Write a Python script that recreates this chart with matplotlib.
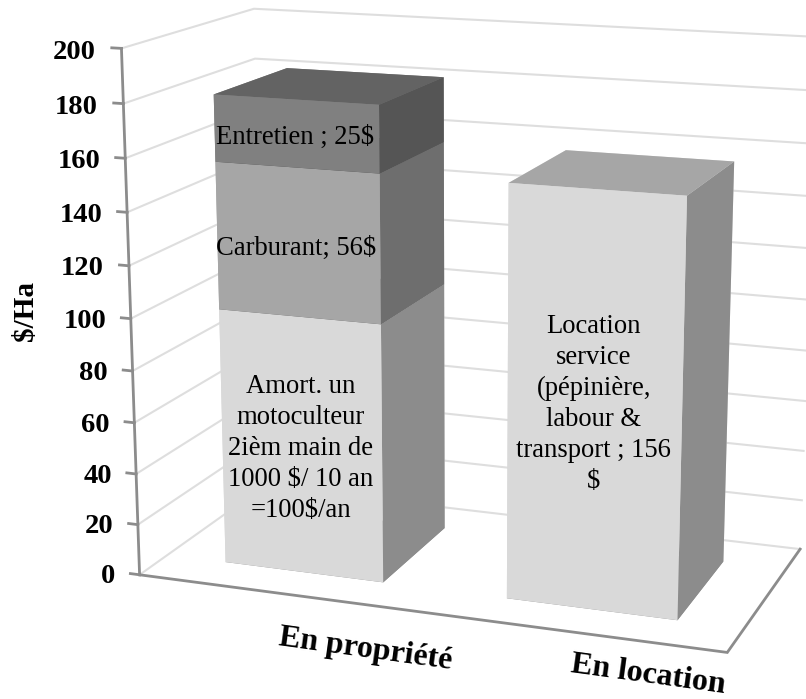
import numpy as np
import matplotlib
matplotlib.use("Agg")
import matplotlib.pyplot as plt
from mpl_toolkits.mplot3d import proj3d

# ---- data ----
categories = ["En propriété", "En location"]
y_ticks = [0, 20, 40, 60, 80, 100, 120, 140, 160, 180, 200]
y_label = "$/Ha"
amortissement = [100, 0]
carburant = [56, 0]
entretien = [25, 0]
location = [0, 156]
label_amort = "Amort. un\nmotoculteur\n2ièm main de\n1000 $/ 10 an\n=100$/an"
label_carb = "Carburant; 56$"
label_entr = "Entretien ; 25$"
label_loc = "Location\nservice\n(pépinière,\nlabour &\ntransport ; 156\n$"

# ---- camera: world (category, depth, value) -> image pixel ----
CAMERA = np.array([
    [2.655326e+02, 1.527166e+02, -1.225794e-01, 1.395872e+02],
    [1.343189e+01, -3.660514e+01, -2.644787e+00, 5.747924e+02],
    [-3.892345e-02, 1.068776e-01, -2.626641e-04, 1.0],
])
W_PX, H_PX = 806, 699
SQUARE = 1100
BAR_W = 0.57
BAR_D = 0.58

fig = plt.figure(figsize=(W_PX / 100, H_PX / 100), dpi=100, facecolor="white")
ax = fig.add_axes([(W_PX - SQUARE) / 2 / W_PX, (H_PX - SQUARE) / 2 / H_PX,
                   SQUARE / W_PX, SQUARE / H_PX], projection="3d",
                  computed_zorder=False)
ax.set_axis_off()


def camera_proj():
    to_data = np.linalg.inv(ax.transData.get_affine().get_matrix())
    flip = np.array([[1, 0, 0], [0, -1, H_PX], [0, 0, 1.0]])
    H = to_data @ flip @ CAMERA
    depth = np.array([-0.02, 0.1, -0.0002, -0.5])
    return np.vstack([H[0], H[1], depth, H[2]])


ax.get_proj = camera_proj


def world_text(x, y, z, s, along_x=False, **kw):
    """Place a flat text at a world position, optionally running along the x axis."""
    M = camera_proj()
    px, py, _ = proj3d.proj_transform(x, y, z, M)
    if along_x:
        qx, qy, _ = proj3d.proj_transform(x + 0.2, y, z, M)
        kw["rotation"] = np.degrees(np.arctan2(qy - py, qx - px))
        kw["rotation_mode"] = "anchor"
    return ax.text2D(px, py, s, transform=ax.transData, **kw)


GRID = "#DEDEDE"
AXIS = "#8C8C8C"
X0, X1 = 0, len(categories)

# walls
for v in y_ticks:
    ax.plot([X0, X0, X1], [0, 1, 1], [v, v, v], color=GRID, lw=1.5, zorder=1,
            solid_joinstyle="miter")
# frame, floor and ticks
ax.plot([X0, X0], [0, 0], [0, y_ticks[-1]], color=AXIS, lw=2.0, zorder=2)
ax.plot([X0, X1, X1], [0, 0, 1], [0, 0, 0], color=AXIS, lw=2.0, zorder=2,
        solid_joinstyle="miter")
for v in y_ticks:
    ax.plot([X0 - 0.034, X0], [0, 0], [v, v], color=AXIS, lw=2.0, zorder=2)
    world_text(X0 - 0.09, 0, v - 2, str(v), ha="right", va="center", color="black",
               family="Liberation Serif", weight="bold", fontsize=20.5, zorder=6)


def box(i, base, height, front, side, top, z):
    x = i + 0.5 - BAR_W / 2
    y = 0.5 - BAR_D / 2
    #        -z    +z   -y     +y     -x     +x
    faces = [side, top, front, front, front, side]
    ax.bar3d([x], [y], [base], [BAR_W], [BAR_D], [height], color=faces, shade=False,
             edgecolor="none", linewidth=0, zorder=z)


box(0, 0, amortissement[0], "#D9D9D9", "#8C8C8C", "#A6A6A6", 3)
box(0, amortissement[0], carburant[0], "#A6A6A6", "#6E6E6E", "#808080", 4)
box(0, amortissement[0] + carburant[0], entretien[0], "#808080", "#555555", "#636363", 5)
box(1, 0, location[1], "#D9D9D9", "#8C8C8C", "#A6A6A6", 3)

label_kw = dict(ha="center", va="center", color="black", family="Liberation Serif",
                fontsize=19.2, multialignment="center", zorder=7)
yf = 0.5 - BAR_D / 2
world_text(0.497, yf, amortissement[0] / 2 - 1, label_amort, linespacing=1.31, **label_kw)
world_text(0.495, yf, amortissement[0] + carburant[0] / 2 - 2, label_carb, **label_kw)
world_text(0.495, yf, amortissement[0] + carburant[0] + entretien[0] / 2 - 1.5, label_entr, **label_kw)
world_text(1.5, yf, location[1] / 2, label_loc, linespacing=1.31, **label_kw)

cat_kw = dict(ha="center", va="center", color="black", family="Liberation Serif",
              weight="bold", fontsize=23, zorder=7)
world_text(0.953, -0.361, 0, categories[0], along_x=True, **cat_kw)
world_text(1.822, -0.256, 0, categories[1], along_x=True, **cat_kw)

fig.text(25 / W_PX, 1 - 311 / H_PX, y_label, rotation=90, ha="center", va="center",
         family="Liberation Serif", weight="bold", fontsize=21, color="black")

fig.savefig("out.png", dpi=100)
